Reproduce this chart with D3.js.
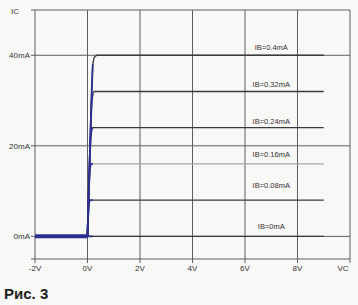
<!DOCTYPE html>
<html>
<head>
<meta charset="utf-8">
<script src="https://cdn.jsdelivr.net/npm/d3@7"></script>
<style>
  body { margin: 0; background: #f8f8f6; }
  svg { display: block; font-family: "Liberation Sans", Arial, sans-serif; }
</style>
</head>
<body>
<svg width="358" height="305"></svg>
<script>
// collector voltage sweep (V) and collector current per base current (mA)
var vce = [-2, 0, 0.04, 0.08, 0.12, 0.16, 0.2, 0.25, 0.35, 0.5, 9];
var ibLabels = ["IB=0.4mA", "IB=0.32mA", "IB=0.24mA", "IB=0.16mA", "IB=0.08mA", "IB=0mA"];
var ib040 = [0, 0, 8, 16, 24, 32, 38, 39.5, 40, 40, 40];
var ib032 = [0, 0, 8, 16, 24, 30, 31.5, 32, 32, 32, 32];
var ib024 = [0, 0, 8, 16, 22, 23.7, 24, 24, 24, 24, 24];
var ib016 = [0, 0, 8, 14.5, 15.8, 16, 16, 16, 16, 16, 16];
var ib008 = [0, 0, 7, 7.8, 8, 8, 8, 8, 8, 8, 8];
var ib000 = [0, 0, 0, 0, 0, 0, 0, 0, 0, 0, 0];
var labelIc = [41.8, 33.6, 25.4, 18.1, 11.3, 2.2];
var xTicks = [-2, 0, 2, 4, 6, 8];
var xTickText = ["-2V", "0V", "2V", "4V", "6V", "8V"];
var yTicks = [0, 20, 40];
var yTickText = ["0mA", "20mA", "40mA"];

var series = [ib040, ib032, ib024, ib016, ib008, ib000];
var lineColors = ["#3a3a3e", "#3a3a3e", "#3a3a3e", "#a8a8a8", "#3a3a3e", "#3a3a3e"];

var svg = d3.select("svg");
var x = d3.scaleLinear().domain([-2, 10]).range([35, 350]);
var y = d3.scaleLinear().domain([-5, 50]).range([259, 10]);

var g = svg.append("g");

// grid
g.selectAll(".vgrid")
  .data(xTicks.concat([10]))
  .enter().append("line")
  .attr("x1", function(d) { return x(d); })
  .attr("x2", function(d) { return x(d); })
  .attr("y1", y(50)).attr("y2", y(-5) + 4)
  .attr("stroke", "#5e5e5e").attr("stroke-width", 1);

g.selectAll(".hgrid")
  .data(yTicks.concat([50, -5]))
  .enter().append("line")
  .attr("x1", x(-2) - 4).attr("x2", x(10))
  .attr("y1", function(d) { return y(d); })
  .attr("y2", function(d) { return y(d); })
  .attr("stroke", "#5e5e5e").attr("stroke-width", 1);

// tick labels
g.selectAll(".xl")
  .data(xTicks)
  .enter().append("text")
  .attr("x", function(d) { return x(d); })
  .attr("y", 271)
  .attr("text-anchor", "middle")
  .attr("font-size", 8)
  .attr("fill", "#333")
  .text(function(d, i) { return xTickText[i]; });

g.append("text").attr("x", 343).attr("y", 271)
  .attr("text-anchor", "middle").attr("font-size", 8).attr("fill", "#333").text("VC");

g.selectAll(".yl")
  .data(yTicks)
  .enter().append("text")
  .attr("x", 30)
  .attr("y", function(d) { return y(d) + 3; })
  .attr("text-anchor", "end")
  .attr("font-size", 8)
  .attr("fill", "#333")
  .text(function(d, i) { return yTickText[i]; });

g.append("text").attr("x", 11).attr("y", 14)
  .attr("font-size", 8).attr("fill", "#333").text("IC");

// curves
var line = d3.line()
  .x(function(d) { return x(d[0]); })
  .y(function(d) { return y(d[1]); });

series.forEach(function(s, i) {
  var pts = vce.map(function(v, j) { return [v, s[j]]; });
  g.append("path")
    .attr("d", line(pts.filter(function(p) { return p[0] >= 0.12 || p[1] >= s[s.length - 1]; })))
    .attr("fill", "none")
    .attr("stroke", lineColors[i])
    .attr("stroke-width", 1.3);
});

// rising part drawn on top in blue
series.forEach(function(s, i) {
  var pts = vce.map(function(v, j) { return [v, s[j]]; })
    .filter(function(p) { return p[0] >= 0 && p[0] <= 0.2; });
  g.append("path")
    .attr("d", line(pts))
    .attr("fill", "none")
    .attr("stroke", "#2e2f8e")
    .attr("stroke-width", 1.8);
});

// thick blue at zero current, negative voltage
var neg = vce.map(function(v, j) { return [v, ib000[j]]; })
  .filter(function(p) { return p[0] <= 0; });
g.append("path")
  .attr("d", line(neg))
  .attr("fill", "none")
  .attr("stroke", "#2b2f93")
  .attr("stroke-width", 4);

// curve labels
g.selectAll(".cl")
  .data(ibLabels)
  .enter().append("text")
  .attr("x", x(7))
  .attr("y", function(d, i) { return y(labelIc[i]) + 3; })
  .attr("text-anchor", "middle")
  .attr("font-size", 7.5)
  .attr("fill", "#333")
  .text(function(d) { return d; });

svg.append("text").attr("x", 4).attr("y", 299)
  .attr("font-size", 15).attr("font-weight", "bold").attr("fill", "#222")
  .text("Рис. 3");
</script>
</body>
</html>
